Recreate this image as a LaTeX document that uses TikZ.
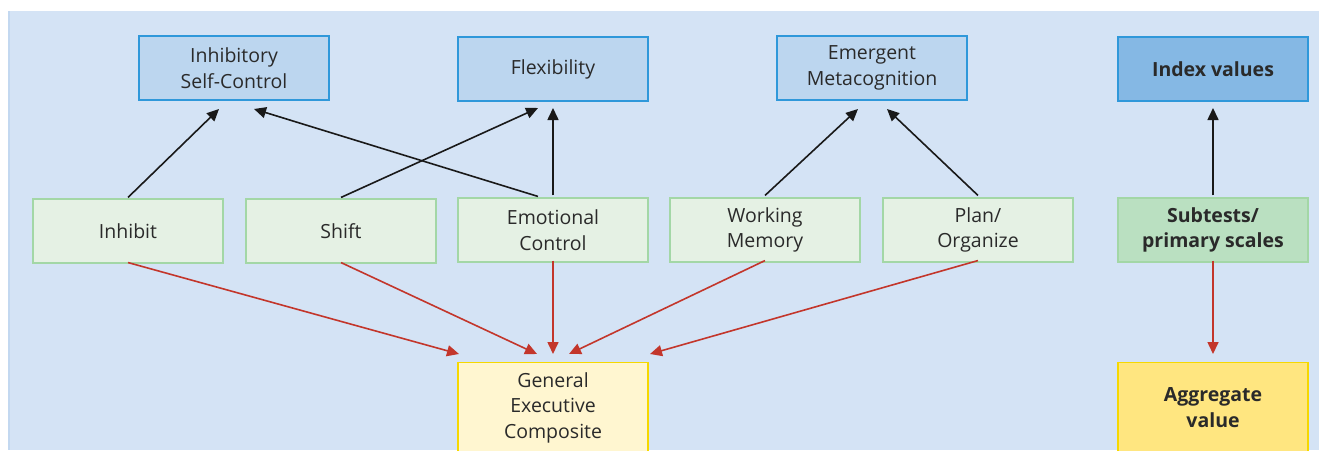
\documentclass[tikz,border=0pt]{standalone}
\usepackage{fontspec}
\setmainfont{Open Sans}
\usetikzlibrary{arrows.meta}
\definecolor{bgblue}{HTML}{D4E3F5}
\definecolor{bgedge}{HTML}{C3D8F0}
\definecolor{topfill}{HTML}{BCD6EF}
\definecolor{topdraw}{HTML}{2F98DA}
\definecolor{idxfill}{HTML}{85B8E4}
\definecolor{midfill}{HTML}{E5F1E4}
\definecolor{middraw}{HTML}{A3D7A6}
\definecolor{subfill}{HTML}{BAE0C1}
\definecolor{genfill}{HTML}{FFF6D0}
\definecolor{gendraw}{HTML}{F6D800}
\definecolor{aggfill}{HTML}{FFE680}
\definecolor{redline}{HTML}{C3362B}
\definecolor{txt}{HTML}{2A2A2A}
\tikzset{
  boxfont/.style={font=\fontsize{19.5}{25.5}\selectfont},
  boldfont/.style={font=\fontsize{19.5}{25.5}\selectfont\bfseries},
  box/.style={minimum width=190pt, minimum height=64pt, inner sep=0pt, align=center,
    boxfont, text=txt, line width=1.1pt},
  topbox/.style={box, fill=topfill, draw=topdraw},
  midbox/.style={box, fill=midfill, draw=middraw},
  blk/.style={draw=black!90, line width=1.6pt, -{Triangle[length=12pt,width=11pt]}},
  red/.style={draw=redline, line width=1.6pt, -{Triangle[length=12pt,width=11pt]}, color=redline},
}
\begin{document}
\begin{tikzpicture}[x=1pt,y=-1pt]
\useasboundingbox (0,0) rectangle (1319,450);
\fill[white] (0,0) rectangle (1319,450);
\fill[bgblue] (8,11) rectangle (1319,450);
\fill[bgedge] (8,11) rectangle (10,450);
% top
\node[topbox] (isc) at (234,68) {Inhibitory\\Self-Control};
\node[topbox] (flx) at (553,69) {Flexibility};
\node[topbox] (emc) at (872,68) {Emergent\\Metacognition};
\node[topbox, fill=idxfill, boldfont] (idx) at (1213,69) {Index values};
% middle
\node[midbox] (inh) at (128,231) {Inhibit};
\node[midbox] (shf) at (341,231) {Shift};
\node[midbox] (emo) at (553,230) {Emotional\\Control};
\node[midbox] (wm) at (765,230) {Working\\Memory};
\node[midbox] (plo) at (978,230) {Plan/\\Organize};
\node[midbox, fill=subfill, boldfont] (sub) at (1213,230) {Subtests/\\primary scales};
% bottom
\node[box, fill=genfill, draw=gendraw, minimum height=90pt, anchor=north] (gec) at (553,362) {General\\Executive\\Composite};
\node[box, fill=aggfill, draw=gendraw, minimum height=90pt, anchor=north, boldfont] (agg) at (1213,362) {Aggregate\\value};
% arrow tips
\coordinate (t1) at (219,109);
\coordinate (t2) at (254,109);
\coordinate (t3) at (538,108);
\coordinate (t4) at (553,108);
\coordinate (t5) at (858,109);
\coordinate (t6) at (887,109);
\coordinate (t7) at (1213,108);
\coordinate (r1) at (459,354);
\coordinate (r2) at (537,354);
\coordinate (r3) at (553,354);
\coordinate (r4) at (569,354);
\coordinate (r5) at (650,354);
\coordinate (r6) at (1213,354);
% black connectors
\draw[blk] ([yshift=1pt]inh.north) -- (t1);
\draw[blk] ([xshift=-15pt,yshift=1pt]emo.north) -- (t2);
\draw[blk] ([yshift=1pt]shf.north) -- (t3);
\draw[blk] ([yshift=2pt]emo.north) -- (t4);
\draw[blk] ([yshift=2pt]wm.north) -- (t5);
\draw[blk] ([yshift=2pt]plo.north) -- (t6);
\draw[blk] ([yshift=2pt]sub.north) -- (t7);
% red connectors
\draw[red] ([yshift=1pt]inh.south) -- (r1);
\draw[red] ([yshift=1pt]shf.south) -- (r2);
\draw[red] ([yshift=2pt]emo.south) -- (r3);
\draw[red] ([yshift=2pt]wm.south) -- (r4);
\draw[red] ([yshift=2pt]plo.south) -- (r5);
\draw[red] ([yshift=2pt]sub.south) -- (r6);
\end{tikzpicture}
\end{document}
